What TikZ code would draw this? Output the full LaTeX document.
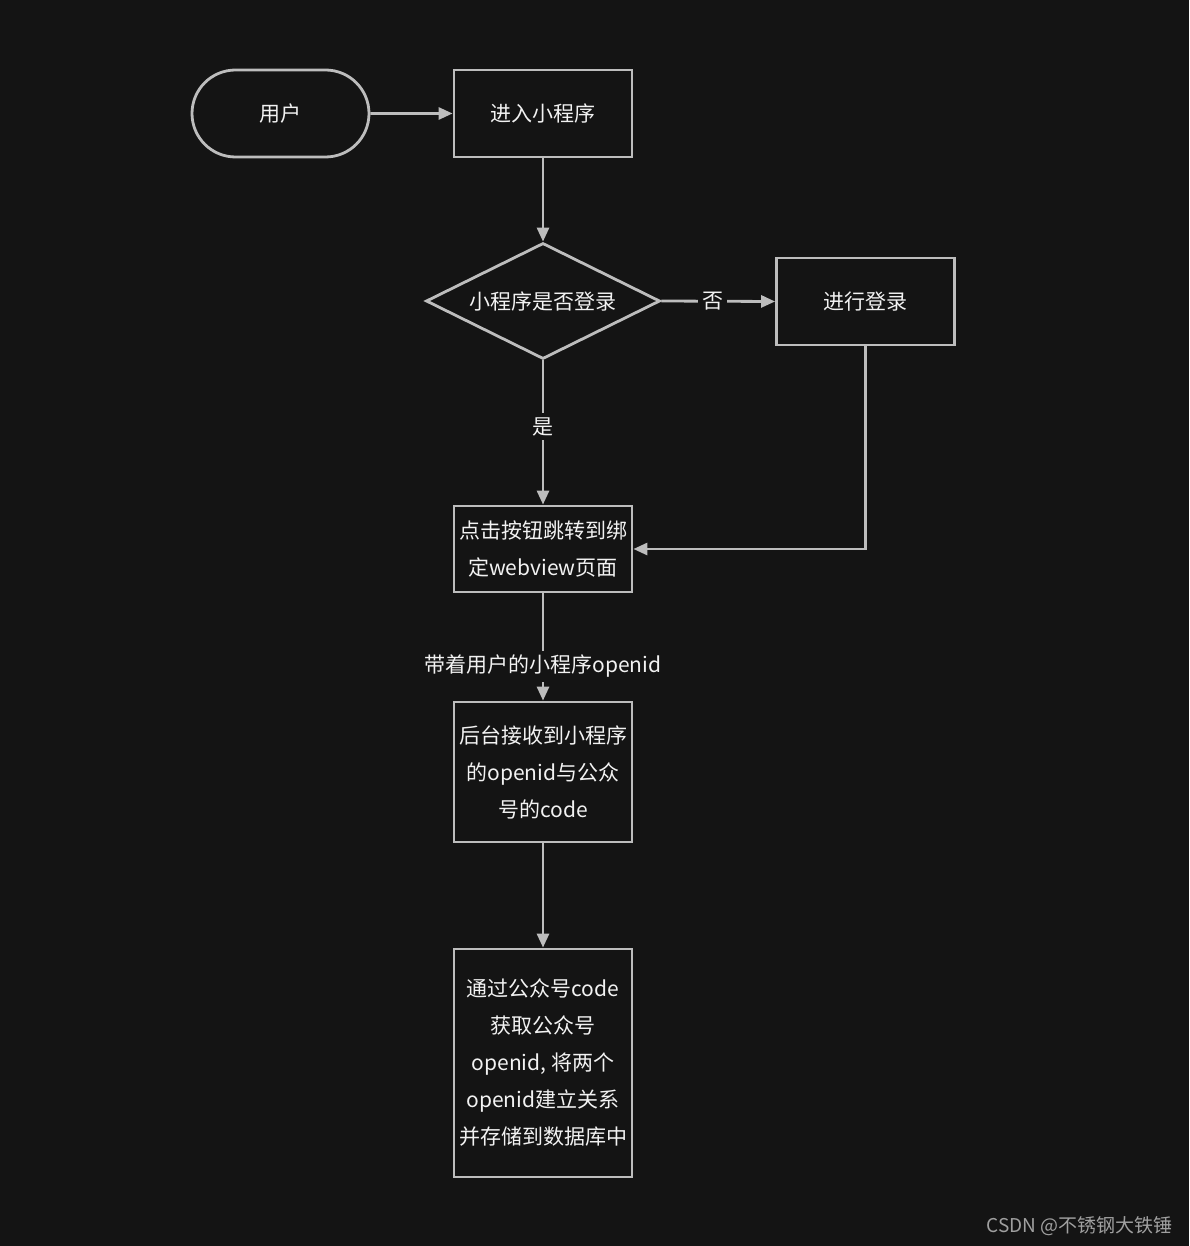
\documentclass[tikz,border=0pt]{standalone}
\usepackage{fontspec}
\setmainfont{Noto Sans CJK SC}
\usetikzlibrary{shapes.geometric,shapes.misc,arrows.meta}
\definecolor{bgc}{HTML}{141414}
\definecolor{linec}{HTML}{BDBDBD}
\definecolor{txtc}{HTML}{F2F2F2}
\definecolor{wmc}{HTML}{A0A0A0}
\tikzset{
  base/.style={draw=linec, line width=2.8pt, text=txtc, font=\fontsize{21pt}{37pt}\selectfont, align=center, inner sep=0pt},
  procbox/.style={base, rectangle, minimum width=178pt},
  termbox/.style={base, rounded rectangle, minimum width=177pt, minimum height=87pt},
  decbox/.style={base, diamond, minimum width=234pt, minimum height=116pt, aspect=2},
  conn/.style={draw=linec, line width=2.8pt, -{Triangle[length=14pt,width=12pt]}},
  elabel/.style={fill=bgc, text=txtc, font=\fontsize{21pt}{25pt}\selectfont, inner sep=4pt}
}
\begin{document}
\begin{tikzpicture}[x=1pt,y=-1pt]
\fill[bgc] (0,0) rectangle (1189,1246);
\useasboundingbox (0,0) rectangle (1189,1246);
\node[termbox] (user) at (280.5,113.5) {\raisebox{-2pt}{用户}};
\node[procbox, minimum height=87pt] (enter) at (543,113.5) {\raisebox{-2pt}{进入小程序}};
\node[decbox] (dec) at (543,301) {\raisebox{-2pt}{小程序是否登录}};
\node[procbox, minimum height=87pt] (login) at (865.5,301.5) {\raisebox{-2pt}{进行登录}};
\node[procbox, minimum height=86pt] (jump) at (543,549) {点击按钮跳转到绑\\定webview页面};
\node[procbox, minimum height=140pt] (recv) at (543,772) {后台接收到小程序\\的openid与公众\\号的code};
\node[procbox, minimum height=228pt] (store) at (543,1063) {通过公众号code\\获取公众号\\openid, 将两个\\openid建立关系\\并存储到数据库中};
\coordinate (corner) at (login.south |- jump.east);
\draw[conn] (user) -- (enter);
\draw[conn] (enter) -- (dec);
\draw[conn] (dec.east) -- node[elabel, pos=0.45] (no) {否} (login.west);
\draw[conn] (dec.south) -- node[elabel, pos=0.46] (yes) {是} (jump.north);
\draw[conn] (login.south) -- (corner) -- (jump.east);
\draw[conn] (jump.south) -- node[elabel, pos=0.68] (carry) {带着用户的小程序openid} (recv.north);
\draw[conn] (recv.south) -- (store.north);
\node[text=wmc, font=\fontsize{19pt}{22pt}\selectfont, anchor=east, inner sep=0pt] (wm) at (1173,1226) {CSDN @不锈钢大铁锤};
\end{tikzpicture}
\end{document}
